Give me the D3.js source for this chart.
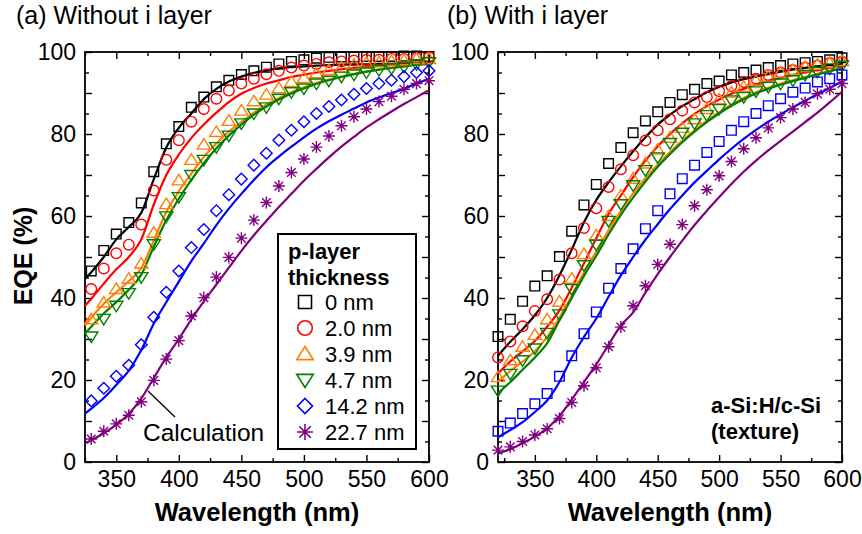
<!DOCTYPE html>
<html>
<head>
<meta charset="utf-8">
<script src="https://cdn.jsdelivr.net/npm/d3@7"></script>
<style>
  body { margin: 0; background: #fff; }
  text { font-family: "Liberation Sans", Arial, sans-serif; }
</style>
</head>
<body>
<svg id="chart" width="862" height="534"></svg>
<script>
// wavelengths (nm)
var lineWaveA = [325,330,340,350,360,370,380,390,400,410,420,430,440,450,460,470,480,490,500,510,520,530,540,550,560,570,580,590,600];
var markWaveA = [330,340,350,360,370,380,390,400,410,420,430,440,450,460,470,480,490,500,510,520,530,540,550,560,570,580,590,600];
var waveB = [320,330,340,350,360,370,380,390,400,410,420,430,440,450,460,470,480,490,500,510,520,530,540,550,560,570,580,590,600];

var thickness = ["0 nm", "2.0 nm", "3.9 nm", "4.7 nm", "14.2 nm", "22.7 nm"];
var colors = ["#000000", "#ff0000", "#ff7f00", "#008000", "#0000ff", "#800080"];

// (a) without i layer - measured EQE (%)
var a0Meas = [46.6,51.6,55.6,58.4,63.2,70.8,77.6,81.8,86.5,89,91.5,93.1,94.5,95.4,96.3,97.1,97.7,98.1,98.5,98.7,98.8,98.8,98.9,98.9,98.9,99,99,98.9];
var a1Meas = [42.2,47.2,50.9,53,57.9,66.2,73.7,78.5,83,86.1,88.6,90.6,92.3,93.5,94.6,95.4,96.2,96.7,97.1,97.5,97.7,97.9,98.1,98.1,98.3,98.3,98.5,98.7];
var a2Meas = [34.8,38.9,42.2,44.7,48.4,55.9,62.9,68.7,73.7,77.4,80.5,83.2,85.7,88,89.6,91.2,92.7,93.7,94.8,95.6,96.2,96.9,97.3,97.5,97.8,98,98.3,98.3];
var a3Meas = [30.6,34.9,38.1,41.2,45.1,53.1,59.9,64.6,70,73.7,76.8,79.6,82.6,85,86.5,88.6,90.2,91.1,92.3,93,94,94.5,95,95.6,96,96.4,97,97.5];
var a4Meas = [14.9,18,20.9,23.6,28.6,35.3,41.4,46.6,52.3,56.7,61.3,65.2,69,72.4,75.3,78.5,80.9,83,85,86.7,88.3,89.7,91.1,92.3,93.1,94,95,95.4];
var a5Meas = [5.6,7.5,9.3,11.4,14.7,19.9,25.1,29.6,35.6,40.1,45.1,49.9,54.6,59,63.3,67.3,70.6,73.9,76.8,79.5,82,84.2,86.1,87.9,89.2,90.9,92.3,93];

// (a) calculation
var a0Calc = [44.7,46.3,50,54.3,57.3,60.8,69,76.7,81.5,85,88.5,91,92.8,94,94.9,95.5,96,96.3,96.5,96.7,96.8,96.9,97,97,97.1,97.1,97.2,97.2,97.2];
var a1Calc = [38.1,39.8,43.5,47,50,54.3,62.8,70,75,79,82.3,85.2,87.8,89.8,91.2,92.3,93.1,93.9,94.5,95,95.4,95.8,96.1,96.4,96.6,96.8,96.9,97,97];
var a2Calc = [33.3,35.2,38.6,41.4,44.1,47.3,54,61,66,70.3,74.4,77.7,80.6,82.9,85.2,87.2,88.8,90.2,91.4,92.5,93.3,94,94.6,95.2,95.7,96.1,96.5,96.9,97.3];
var a3Calc = [31.4,33,36.2,39,42,45.7,52.5,59,64.2,68.8,72.9,76.5,79.6,82.3,84.7,86.7,88.4,89.9,91.1,92.2,93.1,93.9,94.6,95.2,95.7,96.1,96.5,96.9,97.2];
var a4Calc = [11.8,13,15.6,18.8,22.3,27.3,33.8,39,44,49,53.3,57.8,61.8,65.4,68.8,71.9,74.5,76.9,79.2,81.3,83.1,84.7,86.2,87.7,88.9,90,91,92.3,93.4];
var a5Calc = [4.6,5.3,7,9.1,11.7,15.5,20.5,25.5,30,34.8,39.2,43.3,47.4,51.5,55.3,58.8,62.2,65.4,68.6,71.5,74.3,76.9,79.3,81.6,83.6,85.5,87.3,89,90.7];

// (b) with i layer - measured
var b0Meas = [30.6,34.8,39.2,42.9,45.4,50.1,56.3,62.7,67.7,72.8,76.7,80.3,83.2,85.4,87.7,89.6,90.9,92.3,92.9,94.4,95,95.6,96.2,96.7,97.1,97.4,97.7,98.1,98.6];
var b1Meas = [25.5,29.4,33.1,36.8,39.7,44.5,50.9,57.1,61.9,67.1,71.4,74.8,78.4,80.9,83.6,85.7,87.7,89,90.4,91.7,92.7,93.5,94.4,95,95.6,96.2,96.7,97.3,97.7];
var b2Meas = [20.7,24.8,28.1,31,34.8,39.1,44.7,50.7,55.3,60,65,69.1,72.8,76.2,79.1,81.5,83.6,86.1,88.4,90.1,91.5,93,94,95,95.6,96.3,96.9,97.3,97.8];
var b3Meas = [17.4,21.5,24.8,27.7,31.5,36,42.2,48,53,58.8,62.9,67.5,71.2,74.3,77.8,80.3,82.6,84.6,86.1,88.2,89,90.4,91.5,92.3,93.1,94.4,95.2,96,96.7];
var b4Meas = [7.5,9.5,11.8,14.2,16.7,20.9,25.9,31.3,36.6,42.4,47.2,52,56.9,61.3,65.4,69.1,72.4,75.5,78.2,80.9,83,85,86.9,88.6,90.2,91.2,92.7,93.5,94.4];
var b5Meas = [2.9,3.7,5,6.6,8.1,10.6,14.5,18.6,23,28.1,32.9,38.1,43,48.2,53.1,57.9,62.5,66.4,69.8,73.3,76.4,79.1,81.5,84,86.1,87.7,89.8,90.9,92.3];

// (b) calculation
var b0Calc = [25.9,29.3,32.4,35.8,40,45.5,51.8,58.5,63.9,68.2,72.1,75.8,79.2,82.3,84.7,86.8,88.5,90.2,91.5,92.6,93.4,94,94.6,95.2,95.7,96.1,96.5,96.8,97];
var b1Calc = [21.6,24.5,27,29.5,33,37,42.5,48.5,54.6,60.5,65,69.5,73.5,77,80,82.6,84.9,86.8,88.4,89.8,91,92,92.9,93.7,94.4,95,95.6,96.1,96.6];
var b2Calc = [19.6,22.2,24.5,27,30.5,35.2,40.6,46.3,51.3,56.5,61.2,65.5,69.2,72.5,75.6,78.4,80.9,83.2,85.3,87.2,88.8,90.2,91.3,92.3,93.1,93.9,94.7,95.4,96];
var b3Calc = [16.8,19.5,22.5,25.5,29,34.5,40,45.4,50.3,55.5,60.3,64.5,68.4,72,75.1,78,80.6,82.9,85,86.9,88.5,89.9,91,92,92.9,93.7,94.5,95.3,96];
var b4Calc = [6,7.8,9.7,12.2,15,19.5,25.5,30.5,35,40.3,45.5,50,54.2,58,61.7,65,68.2,71,73.8,76.4,78.8,81,83,84.8,86.5,88.1,89.7,91.2,92.8];
var b5Calc = [2.1,3.1,4.6,6.2,8.2,11.2,15.2,19.5,23.8,28.6,33.3,36.5,41.3,45.8,50,54,57.8,61.3,64.6,67.8,70.8,73.5,76,78.3,80.6,82.9,85.2,87.7,90.3];

var symbolsA = ["square", "circle", "triUp", "triDown", "diamond", "star"];
var symbolsB = ["square", "circle", "triUp", "triDown", "square", "star"];
var yTickLabels = [0, 20, 40, 60, 80, 100];
var xTickLabels = [350, 400, 450, 500, 550, 600];

var svg = d3.select("#chart");

// marker shapes, s = half size
function symbolPath(type, s) {
  if (type == "square") return "M" + (-s) + "," + (-s) + "H" + s + "V" + s + "H" + (-s) + "Z";
  if (type == "circle") return "M" + s + ",0A" + s + "," + s + " 0 1,1 " + (-s) + ",0A" + s + "," + s + " 0 1,1 " + s + ",0Z";
  if (type == "triUp") return "M0," + (-s) + "L" + (s * 1.1) + "," + (s * 0.75) + "L" + (-s * 1.1) + "," + (s * 0.75) + "Z";
  if (type == "triDown") return "M0," + s + "L" + (s * 1.1) + "," + (-s * 0.75) + "L" + (-s * 1.1) + "," + (-s * 0.75) + "Z";
  if (type == "diamond") return "M0," + (-s) + "L" + s + ",0L0," + s + "L" + (-s) + ",0Z";
  var d = s * 0.72;
  return "M0," + (-s) + "V" + s + "M" + (-s) + ",0H" + s +
         "M" + (-d) + "," + (-d) + "L" + d + "," + d + "M" + (-d) + "," + d + "L" + d + "," + (-d);
}
var markSize = {square: 4.8, circle: 5.3, triUp: 6, triDown: 6, diamond: 5.8, star: 6};

function drawPanel(box, domain, lineWave, lineSets, markWave, markSets, symbols) {
  var x = d3.scaleLinear().domain(domain).range([box.x0, box.x1]);
  var y = d3.scaleLinear().domain([0, 100]).range([box.y1, box.y0]);
  var g = svg.append("g");

  var majorX = d3.range(350, 601, 50);
  var minorX = d3.range(Math.ceil(domain[0] / 25) * 25, 601, 25).filter(function(v) { return v % 50 != 0; });
  var majorY = d3.range(0, 101, 10);
  var minorY = d3.range(5, 100, 10);

  function styleAxis(sel) {
    sel.select(".domain").remove();
    sel.selectAll(".tick line").attr("stroke", "#000").attr("stroke-width", 1.4);
    sel.selectAll("text").attr("font-size", 23).attr("fill", "#000")
      .style("font-family", "'Liberation Sans', Arial, sans-serif");
  }

  // bottom
  g.append("g").attr("transform", "translate(0," + box.y1 + ")")
    .call(d3.axisBottom(x).tickValues(majorX).tickSize(-7).tickPadding(9).tickFormat(d3.format("d")))
    .call(styleAxis);
  g.append("g").attr("transform", "translate(0," + box.y1 + ")")
    .call(d3.axisBottom(x).tickValues(minorX).tickSize(-4).tickFormat(""))
    .call(styleAxis);
  // top
  g.append("g").attr("transform", "translate(0," + box.y0 + ")")
    .call(d3.axisTop(x).tickValues(majorX).tickSize(-7).tickFormat(""))
    .call(styleAxis);
  g.append("g").attr("transform", "translate(0," + box.y0 + ")")
    .call(d3.axisTop(x).tickValues(minorX).tickSize(-4).tickFormat(""))
    .call(styleAxis);
  // left
  g.append("g").attr("transform", "translate(" + box.x0 + ",0)")
    .call(d3.axisLeft(y).tickValues(majorY).tickSize(-7).tickPadding(9)
      .tickFormat(function(d) { return yTickLabels.indexOf(d) >= 0 ? d : ""; }))
    .call(styleAxis);
  g.append("g").attr("transform", "translate(" + box.x0 + ",0)")
    .call(d3.axisLeft(y).tickValues(minorY).tickSize(-4).tickFormat(""))
    .call(styleAxis);
  // right
  g.append("g").attr("transform", "translate(" + box.x1 + ",0)")
    .call(d3.axisRight(y).tickValues(majorY).tickSize(-7).tickFormat(""))
    .call(styleAxis);
  g.append("g").attr("transform", "translate(" + box.x1 + ",0)")
    .call(d3.axisRight(y).tickValues(minorY).tickSize(-4).tickFormat(""))
    .call(styleAxis);

  // frame
  g.append("rect")
    .attr("x", box.x0).attr("y", box.y0)
    .attr("width", box.x1 - box.x0).attr("height", box.y1 - box.y0)
    .attr("fill", "none").attr("stroke", "#000").attr("stroke-width", 1.8);

  // calculation lines
  var line = d3.line()
    .x(function(d) { return x(d[0]); })
    .y(function(d) { return y(d[1]); })
    .curve(d3.curveMonotoneX);
  lineSets.forEach(function(vals, i) {
    g.append("path")
      .datum(lineWave.map(function(w, j) { return [w, vals[j]]; }))
      .attr("d", line)
      .attr("fill", "none")
      .attr("stroke", colors[i])
      .attr("stroke-width", 2.2);
  });

  // measured markers
  markSets.forEach(function(vals, i) {
    g.append("g").selectAll("path")
      .data(markWave.map(function(w, j) { return [w, vals[j]]; }))
      .enter()
      .append("path")
      .attr("d", symbolPath(symbols[i], markSize[symbols[i]]))
      .attr("transform", function(d) { return "translate(" + x(d[0]) + "," + y(d[1]) + ")"; })
      .attr("fill", "none")
      .attr("stroke", colors[i])
      .attr("stroke-width", 1.4);
  });

  // axis title
  g.append("text")
    .attr("x", (box.x0 + box.x1) / 2).attr("y", 521)
    .attr("text-anchor", "middle")
    .attr("font-size", 25.5).attr("font-weight", "bold")
    .text("Wavelength (nm)");
  return g;
}

var boxA = {x0: 85, x1: 429, y0: 52, y1: 462};
var boxB = {x0: 498, x1: 842, y0: 52, y1: 462};

drawPanel(boxA, [325, 600], lineWaveA, [a0Calc, a1Calc, a2Calc, a3Calc, a4Calc, a5Calc],
  markWaveA, [a0Meas, a1Meas, a2Meas, a3Meas, a4Meas, a5Meas], symbolsA);
drawPanel(boxB, [320, 600], waveB, [b0Calc, b1Calc, b2Calc, b3Calc, b4Calc, b5Calc],
  waveB, [b0Meas, b1Meas, b2Meas, b3Meas, b4Meas, b5Meas], symbolsB);

// panel titles
svg.append("text").attr("x", 16).attr("y", 24).attr("font-size", 25).text("(a) Without i layer");
svg.append("text").attr("x", 447).attr("y", 24).attr("font-size", 25).text("(b) With i layer");

// y axis title
svg.append("text")
  .attr("transform", "translate(31.5,256) rotate(-90)")
  .attr("text-anchor", "middle")
  .attr("font-size", 25).attr("font-weight", "bold")
  .text("EQE (%)");

// calculation annotation
svg.append("line").attr("x1", 148).attr("y1", 391).attr("x2", 175).attr("y2", 417)
  .attr("stroke", "#000").attr("stroke-width", 1.3);
svg.append("text").attr("x", 143).attr("y", 441).attr("font-size", 24.5).text("Calculation");

// legend
var legend = svg.append("g");
legend.append("rect").attr("x", 278).attr("y", 234).attr("width", 138).attr("height", 215)
  .attr("fill", "#fff").attr("stroke", "#000").attr("stroke-width", 2);
legend.append("text").attr("x", 288).attr("y", 258.5).attr("font-size", 22).attr("font-weight", "bold").text("p-layer");
legend.append("text").attr("x", 288).attr("y", 285).attr("font-size", 22).attr("font-weight", "bold").text("thickness");
var legendSize = {square: 6.5, circle: 7.3, triUp: 7.5, triDown: 7.5, diamond: 7.5, star: 8};
thickness.forEach(function(t, i) {
  var by = 310 + i * 26;
  legend.append("path")
    .attr("d", symbolPath(symbolsA[i], legendSize[symbolsA[i]]))
    .attr("transform", "translate(305," + (by - 8) + ")")
    .attr("fill", "none").attr("stroke", colors[i]).attr("stroke-width", 1.6);
  legend.append("text").attr("x", 325).attr("y", by).attr("font-size", 22).text(t);
});

// sample note
svg.append("text").attr("x", 711).attr("y", 413).attr("font-size", 22).attr("font-weight", "bold").text("a-Si:H/c-Si");
svg.append("text").attr("x", 711).attr("y", 439).attr("font-size", 22).attr("font-weight", "bold").text("(texture)");
</script>
</body>
</html>
